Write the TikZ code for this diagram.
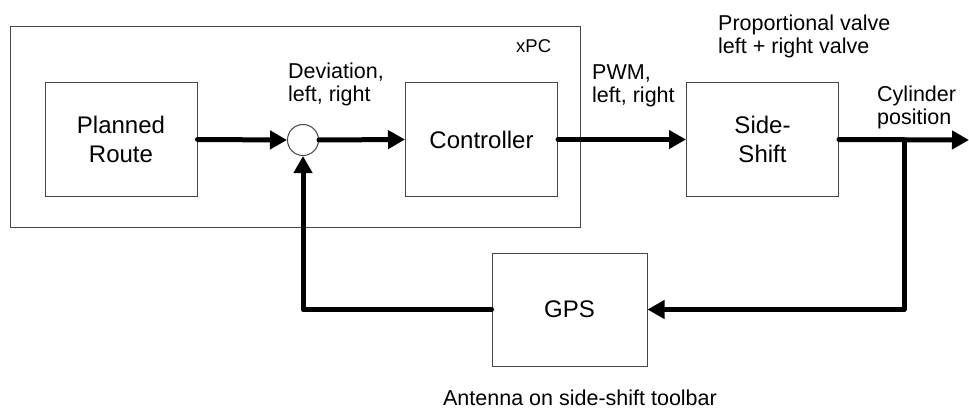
\documentclass[tikz,border=0pt]{standalone}
\usepackage{fontspec}
\setmainfont{Liberation Sans}
\usetikzlibrary{arrows.meta}
\definecolor{boxgray}{RGB}{70,70,70}
\begin{document}
\begin{tikzpicture}[x=1pt,y=-1pt,
  block/.style={draw=boxgray, line width=1pt, minimum width=152pt,
    minimum height=113pt, inner sep=0pt, align=center,
    font=\fontsize{24}{29}\selectfont},
  lbl/.style={inner sep=0pt, align=left, anchor=north west,
    font=\fontsize{21.5}{23}\selectfont},
  flow/.style={line width=5pt, line cap=round, line join=round,
    -{Triangle[length=17pt,width=18pt]}},
  sumpoint/.style={circle, draw=boxgray, line width=1pt, minimum size=31pt,
    inner sep=0pt}]
\useasboundingbox (0,0) rectangle (969,409);

% xPC enclosure
\draw[draw=boxgray, line width=1pt] (10,27) rectangle (580,227);
\node[inner sep=0pt, anchor=base west, font=\fontsize{18.5}{20}\selectfont]
  (xpc) at (516,53) {xPC};

% blocks
\node[block] (route) at (121,139.5) {Planned\\Route};
\node[sumpoint] (sum) at (303,140) {};
\node[block] (ctrl) at (481.5,139.5) {Controller};
\node[block] (shift) at (762.5,139.5) {Side-\\Shift};
\node[block, minimum width=155pt] (gps) at (569.5,309.5) {GPS};

% signal labels
\node[lbl] (dev) at (288,63) {Deviation,\\left, right};
\node[lbl] (pwm) at (592,64.6) {PWM,\\left, right};
\node[lbl] (valve) at (718,14.3) {Proportional valve\\left + right valve};
\node[lbl] (cyl) at (877,85.3) {Cylinder\\position};
\node[inner sep=0pt, anchor=base, font=\fontsize{21.5}{23}\selectfont]
  (antenna) at (580,405) {Antenna on side-shift toolbar};

% signal flow
\coordinate (out) at (969,140);
\coordinate (branch) at (904,140);
\draw[flow] (route.east) -- (sum.west);
\draw[flow] (sum.east) -- (ctrl.west);
\draw[flow] (ctrl.east) -- (shift.west);
\draw[flow] (shift.east) -- (out);
\draw[flow] (branch) |- (gps.east);
\draw[flow] (gps.west) -| (sum.south);
\end{tikzpicture}
\end{document}
